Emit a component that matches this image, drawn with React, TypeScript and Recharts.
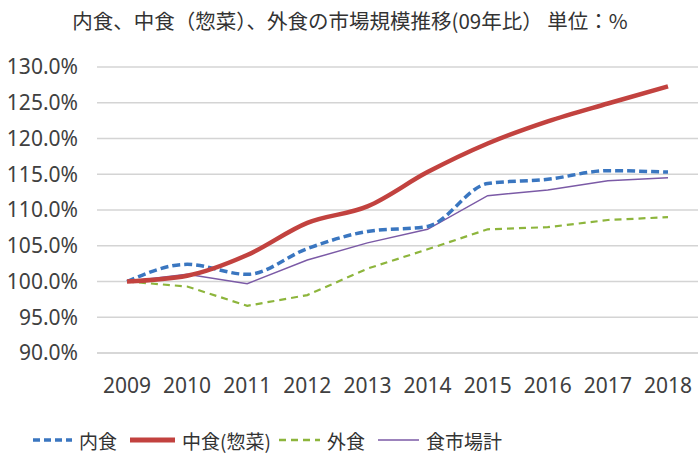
import React from 'react';
import { LineChart, Line, XAxis, YAxis, CartesianGrid } from 'recharts';

const years = ['2009', '2010', '2011', '2012', '2013', '2014', '2015', '2016', '2017', '2018'];
const uchishoku = [100.0, 102.4, 101.0, 104.6, 107.0, 107.7, 113.7, 114.3, 115.5, 115.3];
const nakashoku = [100.0, 100.8, 103.7, 108.2, 110.5, 115.3, 119.3, 122.4, 124.9, 127.3];
const gaishoku = [100.0, 99.3, 96.6, 98.1, 101.8, 104.5, 107.3, 107.6, 108.6, 109.0];
const total = [100.0, 101.0, 99.7, 103.0, 105.4, 107.3, 112.0, 112.8, 114.1, 114.5];
const yTicks = [90, 95, 100, 105, 110, 115, 120, 125, 130];

const data = years.map((y, i) => ({
  year: y,
  uchi: uchishoku[i],
  naka: nakashoku[i],
  gai: gaishoku[i],
  total: total[i],
}));

const BLUE = '#3a76c0';
const RED = '#c2423f';
const GREEN = '#8db53c';
const PURPLE = '#7b5aa6';

const fontJP = '"Noto Sans CJK JP", "Noto Sans", sans-serif';
const fontNum = '"Noto Sans", sans-serif';

const legendItems = [
  { label: '内食', color: BLUE, width: 3.5, dash: '7 4', lineX: 33, lineW: 39 },
  { label: '中食(惣菜)', color: RED, width: 5, dash: undefined, lineX: 130, lineW: 45 },
  { label: '外食', color: GREEN, width: 2.5, dash: '7 5', lineX: 279, lineW: 41 },
  { label: '食市場計', color: PURPLE, width: 1.5, dash: undefined, lineX: 378, lineW: 41 },
];

export default function App() {
  return (
    <div style={{ position: 'absolute', left: 0, top: 0, width: 700, height: 474, background: '#fff', fontFamily: fontJP }}>
      <div style={{ position: 'absolute', left: 0, top: 5, width: 700, textAlign: 'center', fontSize: 20.5, color: '#333', whiteSpace: 'nowrap' }}>
        内食、中食（惣菜）、外食の市場規模推移(09年比） 単位：%
      </div>
      <LineChart width={700} height={474} data={data} margin={{ top: 67, right: 2, left: 0, bottom: 61 }}>
        <CartesianGrid vertical={false} stroke="#d4d4d4" strokeWidth={1.5} />
        <XAxis
          dataKey="year"
          axisLine={{ stroke: '#d4d4d4', strokeWidth: 1.5 }}
          tickLine={false}
          tickSize={0}
          tickMargin={25}
          tick={{ fill: '#404040', fontSize: 21, fontFamily: fontNum }}
          height={60}
          interval={0}
          padding={{ left: 30, right: 30 }}
        />
        <YAxis
          domain={[90, 130]}
          ticks={yTicks}
          width={97}
          axisLine={false}
          tickLine={false}
          tickSize={0}
          tickMargin={19}
          tick={{ fill: '#404040', fontSize: 21, fontFamily: fontNum }}
          tickFormatter={(v: number) => v.toFixed(1) + '%'}
          interval={0}
        />
        <Line type="linear" dataKey="gai" stroke={GREEN} strokeWidth={2.2} strokeDasharray="7 5" dot={false} isAnimationActive={false} />
        <Line type="linear" dataKey="total" stroke={PURPLE} strokeWidth={1.5} dot={false} isAnimationActive={false} />
        <Line type="monotone" dataKey="uchi" stroke={BLUE} strokeWidth={3.5} strokeDasharray="8 4" dot={false} isAnimationActive={false} />
        <Line type="monotone" dataKey="naka" stroke={RED} strokeWidth={4.5} dot={false} isAnimationActive={false} />
      </LineChart>
      <div style={{ position: 'absolute', left: 0, top: 424, width: 700, height: 32 }}>
        {legendItems.map((it) => (
          <div key={it.label} style={{ position: 'absolute', left: it.lineX, top: 0, height: 32, display: 'flex', alignItems: 'center' }}>
            <svg width={it.lineW} height={10} style={{ display: 'block' }}>
              <line x1={0} y1={5} x2={it.lineW} y2={5} stroke={it.color} strokeWidth={it.width} strokeDasharray={it.dash} />
            </svg>
            <span style={{ marginLeft: 7, fontSize: 19, color: '#333', whiteSpace: 'nowrap' }}>{it.label}</span>
          </div>
        ))}
      </div>
    </div>
  );
}
